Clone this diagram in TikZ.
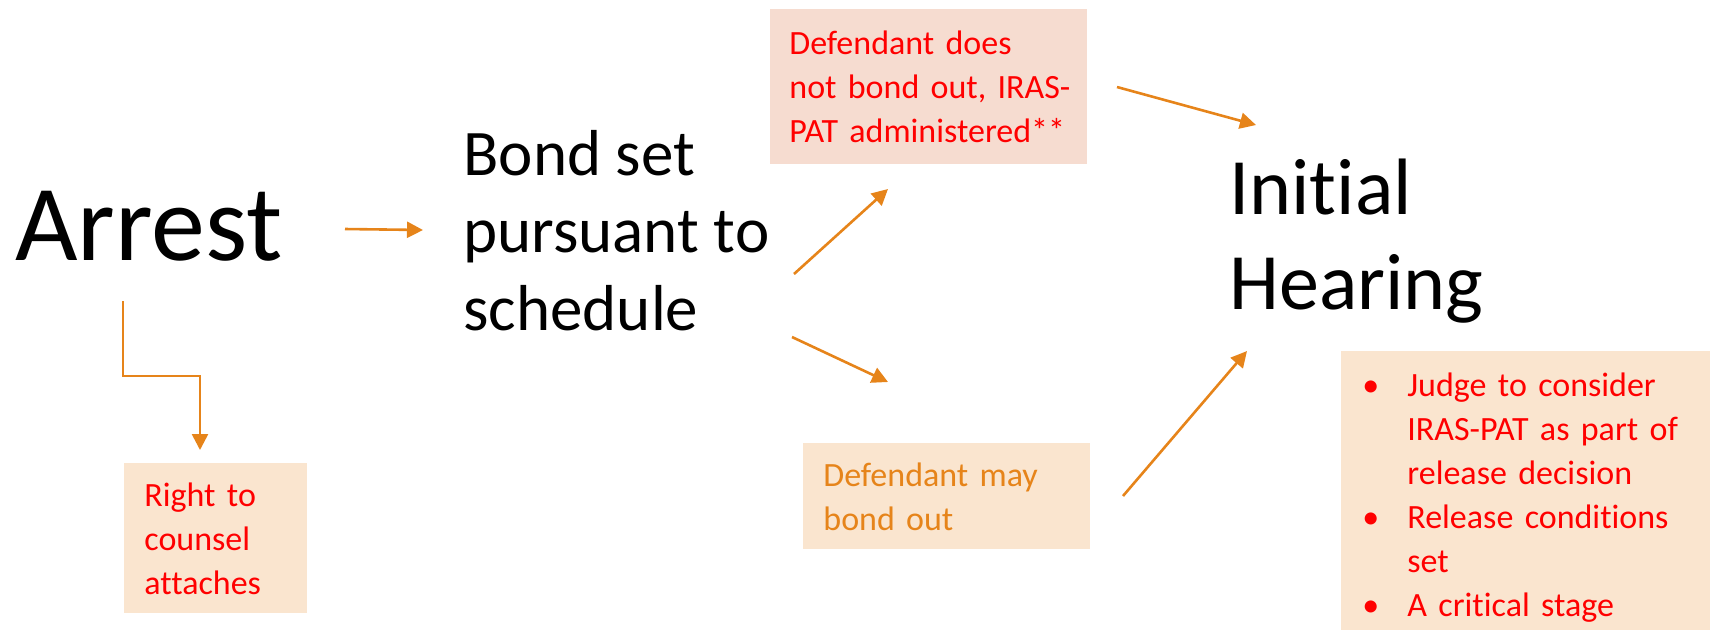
\documentclass[tikz,border=0pt]{standalone}
\usepackage{fontspec}
\setmainfont{Carlito}[Ligatures={NoCommon}]
\usetikzlibrary{arrows.meta, positioning}
\definecolor{notered}{RGB}{255, 0, 0}
\definecolor{flowamber}{RGB}{230, 132, 26}
\definecolor{rosefill}{RGB}{246, 220, 208}
\definecolor{peachfill}{RGB}{250, 229, 207}
\tikzstyle{stage} = [inner sep=0pt, align=left, text=black]
\tikzstyle{note} = [rectangle, anchor=north west, inner ysep=0pt, align=left, text=notered, fill=peachfill, font=\fontsize{17}{22}\selectfont]
\tikzstyle{arrow} = [line width=1.3pt, draw=flowamber, -{Triangle[length=8pt,width=8pt]}]

\begin{document}
\begin{tikzpicture}[x=0.5pt, y=-0.5pt]
\useasboundingbox (0,0) rectangle (1710,629);

% Stages (base = last line)
\node (arrest) [stage, anchor=base west, font=\fontsize{54}{64}\selectfont] at (15,260) {Arrest};
\node (bond) [stage, anchor=base west, font=\fontsize{32.5}{38.75}\selectfont] at (463,330) {Bond set\\pursuant to\\schedule};
\node (hearing) [stage, anchor=base west, font=\fontsize{40}{47.5}\selectfont] at (1229,309) {Initial\\Hearing};

% Notes
\node (counsel) [note, minimum width=91.5pt, minimum height=75pt, inner xsep=10pt, text width=71.5pt] at (124,463) {Right to\\counsel\\attaches};
\node (nobond) [note, fill=rosefill, minimum width=158.5pt, minimum height=77.5pt, inner xsep=9.5pt, text width=139.5pt] at (770,9) {\mbox{Defendant does}\\\mbox{not bond out, IRAS-}\\\mbox{PAT administered**}};
\node (maybond) [note, text=flowamber, minimum width=143.5pt, minimum height=53pt, inner xsep=10pt, text width=123.5pt] at (803,443) {Defendant may\\bond out};
\node (release) [note, minimum width=184.5pt, minimum height=146pt, inner xsep=10.5pt, text width=163.5pt] at (1341,351)
  {\makebox[22.5pt][l]{\textbullet}Judge to consider\\
   \hspace*{22.5pt}IRAS-PAT as part of\\
   \hspace*{22.5pt}release decision\\
   \makebox[22.5pt][l]{\textbullet}Release conditions\\
   \hspace*{22.5pt}set\\
   \makebox[22.5pt][l]{\textbullet}A critical stage};

% Arrow ends
\coordinate (arrest-out) at (345,229);
\coordinate (bond-in) at (423,230);
\coordinate (arrest-down) at (123,301);
\coordinate (counsel-in) at (200,450);
\coordinate (bond-up) at (794,274);
\coordinate (nobond-in) at (888,189);
\coordinate (bond-down) at (792,337);
\coordinate (maybond-in) at (888,382);
\coordinate (nobond-out) at (1117,87);
\coordinate (hearing-top) at (1256,125);
\coordinate (maybond-out) at (1123,496);
\coordinate (hearing-low) at (1247,351);

% Flow
\draw [arrow] (arrest-out) -- (bond-in);
\draw [arrow] (arrest-down) -- ++(0,75) -| (counsel-in);
\draw [arrow] (bond-up) -- (nobond-in);
\draw [arrow] (bond-down) -- (maybond-in);
\draw [arrow] (nobond-out) -- (hearing-top);
\draw [arrow] (maybond-out) -- (hearing-low);

\end{tikzpicture}
\end{document}
